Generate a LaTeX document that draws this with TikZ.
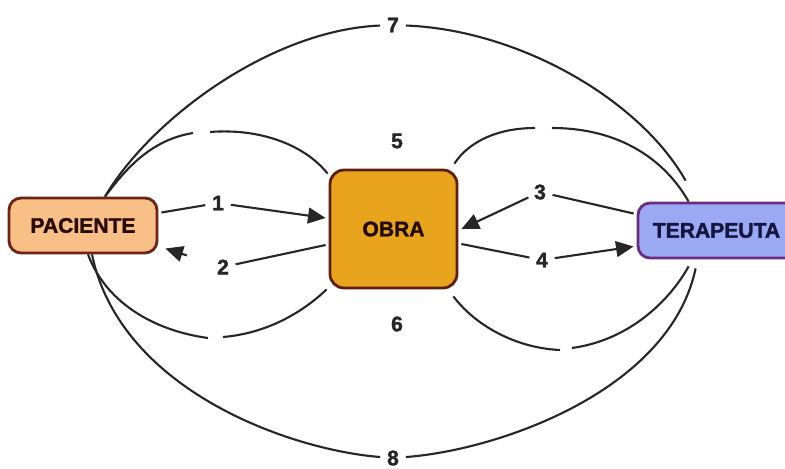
\documentclass[tikz,border=0pt]{standalone}
\usepackage{fontspec}
\setmainfont{Liberation Sans}
\newfontfamily\heavyfont{Liberation Sans Bold}[FakeBold=1.6]
\usetikzlibrary{arrows.meta,calc}

\definecolor{pacfill}{HTML}{F8BF87}
\definecolor{pacline}{HTML}{6E2318}
\definecolor{obrafill}{HTML}{E9A41D}
\definecolor{obraline}{HTML}{5E1E10}
\definecolor{terfill}{HTML}{9BA9F4}
\definecolor{terline}{HTML}{6B2C80}
\definecolor{tertext}{HTML}{141640}
\definecolor{ink}{HTML}{262626}

\tikzset{
  box/.style={draw, line width=1.6pt, rounded corners=0.24cm, inner sep=0pt,
    font=\fontsize{12}{14}\heavyfont\bfseries},
  num/.style={circle, inner sep=0pt, minimum size=0.5cm,
    font=\fontsize{12}{14}\heavyfont\bfseries, text=ink},
  link/.style={draw=ink, line width=1.2pt},
  arr/.style={link, -{Triangle[length=10pt,width=9pt]}},
}

\begin{document}
\begin{tikzpicture}[x=0.02cm,y=-0.02cm]
\useasboundingbox (0,0) rectangle (785,468);

% the three actors
\node[box, fill=pacfill, draw=pacline, text=pacline!35!black,
      minimum width=2.96cm, minimum height=1.1cm] (pac) at (83,225.5) {PACIENTE};
\node[box, fill=obrafill, draw=obraline, text=obraline!35!black, rounded corners=0.28cm,
      minimum width=2.54cm, minimum height=2.36cm] (obra) at (393.5,229) {OBRA};
\node[box, fill=terfill, draw=terline, text=tertext,
      minimum width=3.24cm, minimum height=1.1cm] (ter) at (719,230.5) {\hspace*{-0.1cm}TERAPEUTA};

% numbered labels
\node[num] (l1) at (218,203) {1};
\node[num] (l2) at (223,267) {2};
\node[num] (l3) at (540,192) {3};
\node[num] (l4) at (542,260) {4};
\node[num] (l5) at (397,141) {5};
\node[num] (l6) at (397,324) {6};
\node[num] (l7) at (393,25) {7};
\node[num] (l8) at (393,458) {8};

% attachment points on the boxes
\coordinate (pt) at ($(pac.north)+(22,0)$);
\coordinate (pb) at ($(pac.south)+(7,0)$);
\coordinate (tt) at ($(ter.north west)+(52,0)$);
\coordinate (tb) at ($(ter.south west)+(55,8)$);
\coordinate (e7) at ($(ter.north west)+(49,-21)$);

% straight exchanges 1-4
\draw[link] ($(pac.east)+(3,-13)$) -- (l1);
\draw[arr] (l1) -- ($(obra.west)+(-3,-11)$);
\draw[link] ($(obra.west)+(-3,16)$) -- (l2);
\draw[arr, shorten <=0.76cm] (l2.center) -- ($(pac.east)+(7,23)$);
\draw[link] ($(ter.west)+(-3,-17)$) -- (l3);
\draw[arr] (l3) -- ($(obra.east)+(3,0)$);
\draw[link] ($(obra.east)+(3,15)$) -- (l4);
\draw[arr] (l4) -- ($(ter.west)+(-3,16)$);

% arc 7 over the top
\draw[link] (pt) .. controls (150,120) and (270,30) .. (l7);
\draw[link] (l7) .. controls (520,30) and (640,100) .. (e7);

% arc 8 under the bottom
\draw[link] ($(pb)+(2,0)$) .. controls (120,390) and (290,450) .. (l8);
\draw[link] (l8) .. controls (500,450) and (670,390) .. ($(tb)+(4,1)$);

% arcs around label 5 (upper)
\draw[link] (pt) .. controls (125,170) and (150,140) .. (193,133);
\draw[link] (210,132) .. controls (260,128) and (305,145) .. ($(obra.north west)+(-1,5)$);
\draw[link] ($(obra.north east)+(-4,-5)$) .. controls (470,140) and (500,128) .. (535,128);
\draw[link] (552,128) .. controls (620,128) and (665,160) .. (tt);

% arcs around label 6 (lower)
\draw[link] ($(pb)+(-2,0)$) .. controls (105,300) and (150,330) .. (208,338);
\draw[link] (223,337) .. controls (270,333) and (305,310) .. ($(obra.south west)+(-2,0)$);
\draw[link] ($(obra.south east)+(-5,7)$) .. controls (475,325) and (515,348) .. (560,350);
\draw[link] (572,348) .. controls (630,340) and (670,300) .. ($(tb)+(-3,-1)$);
\end{tikzpicture}
\end{document}
